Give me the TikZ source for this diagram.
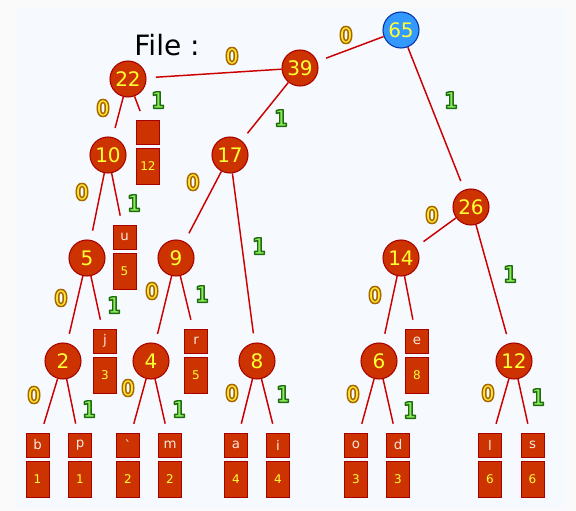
\documentclass[tikz,border=0pt]{standalone}
\usepackage{fontspec}
\setmainfont{DejaVu Sans}
\newfontfamily\lblfont{DejaVu Sans}[FakeStretch=0.85]
\newfontfamily\rawfont{DejaVu Sans}
\definecolor{nfill}{HTML}{CC3300}
\definecolor{ndraw}{HTML}{A80000}
\definecolor{rfill}{HTML}{3399FF}
\definecolor{rdraw}{HTML}{0033AA}
\definecolor{numyel}{HTML}{FFFF33}
\definecolor{ltext}{HTML}{F6E8DE}
\definecolor{edgecol}{HTML}{CC0000}
\definecolor{zfill}{HTML}{FFE633}
\definecolor{ofill}{HTML}{8CEB5A}
\definecolor{panel}{HTML}{F6FAFE}
\definecolor{outer}{HTML}{FAFAFA}
\tikzset{
  inode/.style={circle, draw=ndraw, fill=nfill, line width=0.8pt, minimum size=27pt, inner sep=0pt, text=numyel, font=\fontsize{15}{15}\selectfont},
  rootnode/.style={inode, draw=rdraw, fill=rfill},
  lbox/.style={rectangle, draw=ndraw, line width=0.3pt, fill=nfill, minimum width=17.25pt, minimum height=18pt, inner sep=0pt, text=ltext, font=\fontsize{10}{10}\selectfont},
  nbox/.style={lbox, minimum height=27pt, text=numyel, font=\fontsize{9}{9}\selectfont},
  edge/.style={draw=edgecol, line width=1.1pt, shorten >=7pt},
  elbl/.style={inner sep=0pt, font=\lblfont\bfseries\fontsize{17}{17}\selectfont},
}
% outlined digit: fill then stroke (text render mode 2)
\newcommand{\stroked}[2]{\special{pdf:literal 2 Tr 1.1 w 1 j #1 RG}#2\special{pdf:literal 0 Tr}}
\newcommand{\lzero}[2]{\node[elbl,text=zfill] (#1) at (#2) {\stroked{0.66 0.4 0}{0}};}
\newcommand{\lone}[2]{\node[elbl,text=ofill] (#1) at (#2) {\stroked{0.12 0.42 0.06}{1}};}
\newcommand{\leaf}[5]{% name, x, yletter, letter, number
  \node[lbox] (#1) at (#2,#3) {#4};
  \node[nbox] (#1n) at (#2,#3+34) {#5};}
\begin{document}
\begin{tikzpicture}[x=0.75pt,y=-0.75pt]
\useasboundingbox (0,0) rectangle (576,511);
\fill[outer] (0,0) rectangle (576,511);
\fill[panel] (16,7) rectangle (566,509);
\node[font=\fontsize{21}{21}\selectfont, text=black] (title) at (167,45) {File :};
% internal nodes
\node[rootnode] (n65) at (401,30) {65};
\node[inode] (n39) at (300,68) {39};
\node[inode] (n22) at (128,79) {22};
\node[inode] (n17) at (230,155) {17};
\node[inode] (n10) at (108,155) {10};
\node[inode] (n26) at (471,207) {26};
\node[inode] (n5) at (87,258) {5};
\node[inode] (n9) at (176,258) {9};
\node[inode] (n14) at (401,258) {14};
\node[inode] (n2) at (63,361) {2};
\node[inode] (n4) at (151,361) {4};
\node[inode] (n8) at (257,361) {8};
\node[inode] (n6) at (379,361) {6};
\node[inode] (n12) at (514,361) {12};
% leaves
\leaf{bsp}{148}{132}{}{12}
\leaf{bu}{124.5}{237}{u}{5}
\leaf{bj}{105}{341}{j}{3}
\leaf{br}{196}{341}{r}{5}
\leaf{be}{417}{341}{e}{8}
\leaf{bb}{37.5}{445}{b}{1}
\leaf{bp}{80}{445}{p}{1}
\leaf{bq}{128}{445}{{\rawfont\symbol{96}}}{2}
\leaf{bm}{170}{445}{m}{2}
\leaf{ba}{236}{445}{a}{4}
\leaf{bi}{278}{445}{i}{4}
\leaf{bo}{356}{445}{o}{3}
\leaf{bd}{398}{445}{d}{3}
\leaf{bl}{490}{445}{l}{6}
\leaf{bs}{532.5}{445}{s}{6}
% edges
\foreach \p/\c in {n65/n39, n65/n26, n39/n22, n39/n17, n22/n10, n22/bsp,
  n10/n5, n10/bu, n17/n9, n17/n8, n5/n2, n5/bj, n9/n4, n9/br,
  n26/n14, n26/n12, n14/n6, n14/be, n2/bb, n2/bp, n4/bq, n4/bm,
  n8/ba, n8/bi, n6/bo, n6/bd, n12/bl, n12/bs}
  \draw[edge] (\p) -- (\c);
% edge labels
\lzero{l1}{346,35}
\lzero{l2}{232,56}
\lone{l3}{451,100}
\lone{l4}{281,118}
\lzero{l5}{103,108}
\lone{l6}{158,100}
\lzero{l7}{82,192}
\lone{l8}{134,203}
\lzero{l9}{193,182}
\lone{l10}{259,246}
\lzero{l11}{61,298}
\lone{l12}{114,305}
\lzero{l13}{152,291}
\lone{l14}{202,294}
\lzero{l15}{34,395}
\lone{l16}{89,409}
\lzero{l17}{128,388}
\lone{l18}{179,409}
\lzero{l19}{232,393}
\lone{l20}{283,394}
\lzero{l21}{432,215}
\lone{l22}{510,274}
\lzero{l23}{375,295}
\lzero{l24}{353,394}
\lone{l25}{410,410}
\lzero{l26}{488,393}
\lone{l27}{538,397}
\end{tikzpicture}
\end{document}
